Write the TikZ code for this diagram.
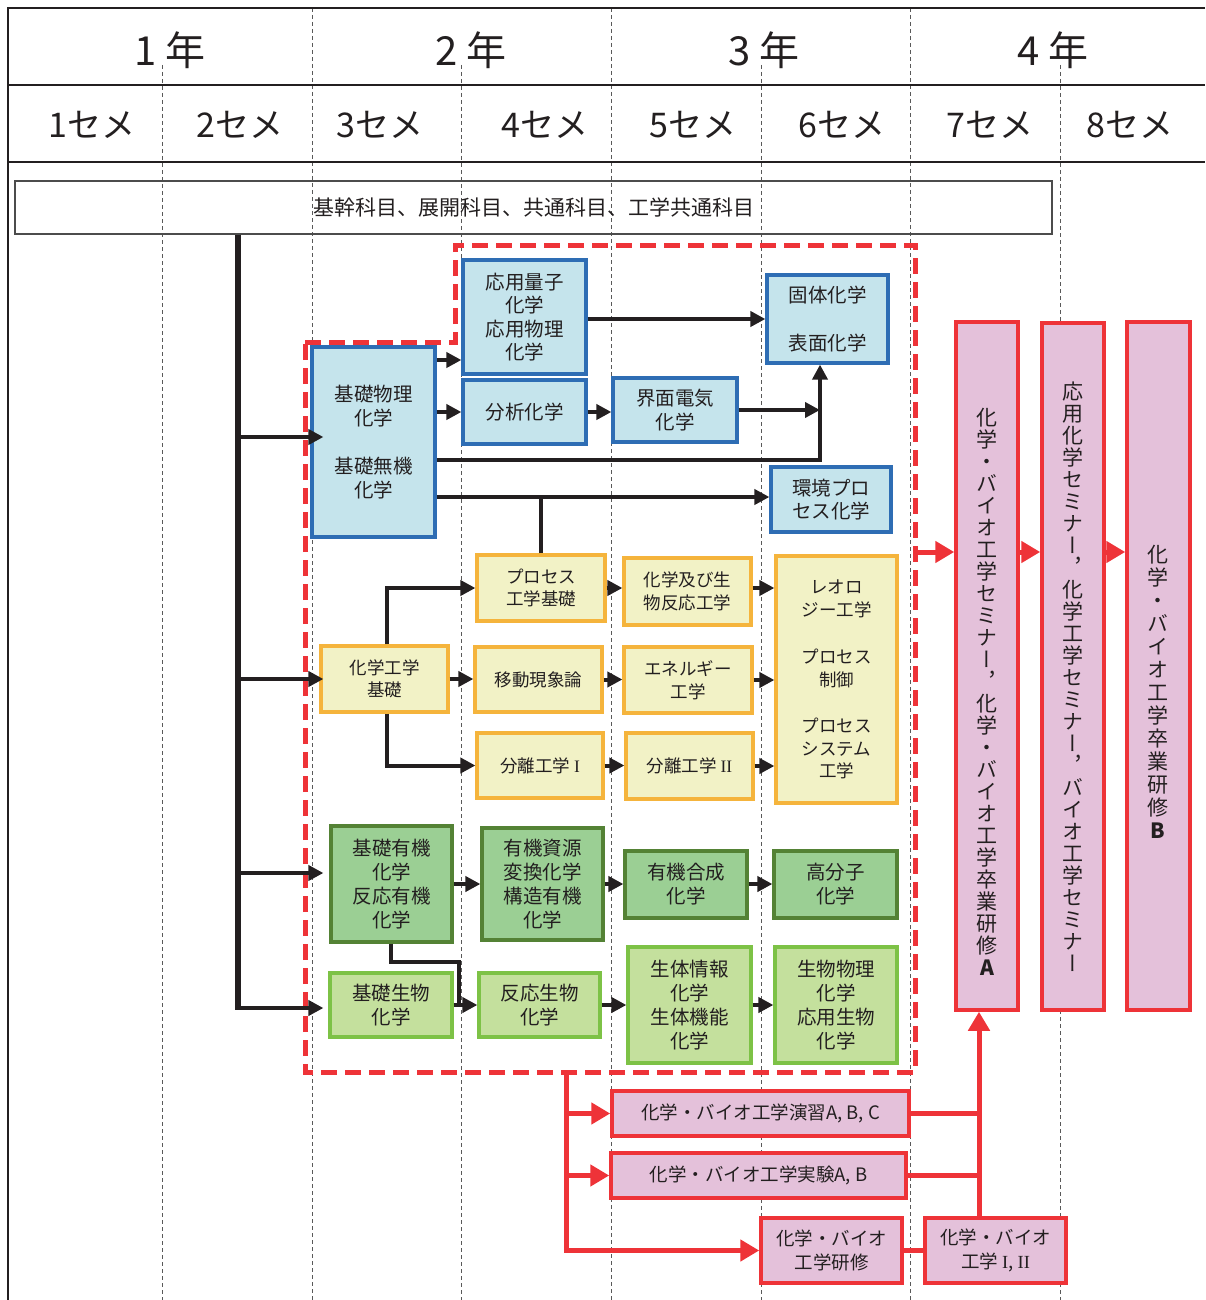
\documentclass[tikz,border=0pt]{standalone}
\usepackage{fontspec}
\setmainfont{Noto Sans CJK JP}
\newfontfamily\vfont[RawFeature=+vert]{Noto Sans CJK JP}
\newfontfamily\romf{Liberation Serif}
\usetikzlibrary{arrows.meta}
\definecolor{blk}{RGB}{35,31,32}
\definecolor{bluefill}{RGB}{197,228,236}
\definecolor{blueline}{RGB}{46,109,180}
\definecolor{yelfill}{RGB}{242,242,198}
\definecolor{yelline}{RGB}{245,180,60}
\definecolor{dgfill}{RGB}{155,207,148}
\definecolor{dgline}{RGB}{84,130,53}
\definecolor{lgfill}{RGB}{196,224,157}
\definecolor{lgline}{RGB}{125,194,70}
\definecolor{pinkfill}{RGB}{228,193,218}
\definecolor{redc}{RGB}{238,51,56}
\newcommand\mybox[7]{\node[#5, minimum width={(#3)-(#1)}, minimum height={(#4)-(#2)}] (#6) at ({((#1)+(#3))/2},{((#2)+(#4))/2}) {#7};}
\tikzset{
 base/.style={draw, line width=3.2pt, inner sep=0pt, align=center, text=blk},
 bluebox/.style={base, draw=blueline, fill=bluefill, font=\fontsize{19.5}{23.5}\selectfont},
 yelbox/.style={base, draw=yelline, fill=yelfill, font=\fontsize{17.5}{22.5}\selectfont},
 dgbox/.style={base, draw=dgline, fill=dgfill, font=\fontsize{19.5}{24}\selectfont},
 lgbox/.style={base, draw=lgline, fill=lgfill, font=\fontsize{19.5}{24}\selectfont},
 pinkbox/.style={base, line width=3.5pt, draw=redc, fill=pinkfill, font=\fontsize{18.5}{24.5}\selectfont},
 vtext/.style={inner sep=0pt, align=center, text=blk, font=\vfont\fontsize{21}{22}\selectfont},
 arr/.style={line width=4pt, draw=blk, -{Triangle[length=15pt,width=15pt]}},
 conn/.style={line width=4pt, draw=blk},
 trunk/.style={line width=6pt, draw=blk},
 rarr/.style={line width=5pt, draw=redc, -{Triangle[length=19pt,width=21pt]}},
 rconn/.style={line width=5pt, draw=redc},
 reddash/.style={line width=5pt, draw=redc, dash pattern=on 16pt off 8pt},
 gridline/.style={line width=0.9pt, draw=gray!70!black, dash pattern=on 4pt off 3pt},
 frameline/.style={line width=2.6pt, draw=blk},
 yearlbl/.style={text=blk, inner sep=0pt, font=\fontsize{40}{44}\selectfont},
 semlbl/.style={text=blk, inner sep=0pt, font=\fontsize{34}{38}\selectfont},
}
\begin{document}
\begin{tikzpicture}[x=1pt,y=-1pt]
\useasboundingbox (0,0) rectangle (1205,1300);
% grid
\foreach \x in {312,611,910} \draw[gridline] (\x,8) -- (\x,1300);
\foreach \x in {162,461,761,1060} \draw[gridline] (\x,65) -- (\x,1300);
% frame
\draw[frameline] (1205,8) -- (8,8) -- (8,1300);
\draw[frameline] (8,85) -- (1205,85);
\draw[frameline] (8,162) -- (1205,162);
% header labels
\node[yearlbl] (y1) at (170,50) {1 年};
\node[yearlbl] (y2) at (471,50) {2 年};
\node[yearlbl] (y3) at (764,50) {3 年};
\node[yearlbl] (y4) at (1053,50) {4 年};
\node[semlbl] (s1) at (92,125) {1セメ};
\node[semlbl] (s2) at (240,125) {2セメ};
\node[semlbl] (s3) at (380,125) {3セメ};
\node[semlbl] (s4) at (545,125) {4セメ};
\node[semlbl] (s5) at (693,125) {5セメ};
\node[semlbl] (s6) at (842,125) {6セメ};
\node[semlbl] (s7) at (990,125) {7セメ};
\node[semlbl] (s8) at (1130,125) {8セメ};
% top box
\node[draw=gray!60!black, line width=1.2pt, inner sep=0pt, minimum width=1037pt, minimum height=53pt, text=blk, font=\fontsize{21}{24}\selectfont] (kikan) at (533.5,207.5) {基幹科目、展開科目、共通科目、工学共通科目};
% red dashed region
\draw[reddash] (305,342) -- (455,342) -- (455,245) -- (915,245) -- (915,1072) -- (305,1072) -- cycle;
% blue boxes
\mybox{463}{260}{586}{374}{bluebox}{oyo}{応用量子\\化学\\応用物理\\化学}
\mybox{463}{380}{586}{444}{bluebox}{bunseki}{分析化学}
\mybox{312}{347}{435}{537}{bluebox}{kiso}{基礎物理\\化学\\[25pt]基礎無機\\化学}
\mybox{613}{378}{737}{442}{bluebox}{kaimen}{界面電気\\化学}
\mybox{767}{275}{888}{363}{bluebox}{kotai}{固体化学\\[25pt]表面化学}
\mybox{771}{467}{891}{532}{bluebox}{kankyo}{環境プロ\\セス化学}
% yellow boxes
\mybox{321}{646}{448}{712}{yelbox}{kagaku}{化学工学\\基礎}
\mybox{477}{555}{605}{621}{yelbox}{process}{プロセス\\工学基礎}
\mybox{475}{647}{602}{712}{yelbox}{ido}{移動現象論}
\mybox{477}{733}{603}{798}{yelbox}{bunri1}{分離工学 {\romf I}}
\mybox{624}{558}{751}{625}{yelbox}{hanno}{化学及び生\\物反応工学}
\mybox{624}{647}{752}{713}{yelbox}{energy}{エネルギー\\工学}
\mybox{626}{733}{753}{799}{yelbox}{bunri2}{分離工学 {\romf II}}
\mybox{776}{556}{897}{803}{yelbox}{reo}{レオロ\\ジー工学\\[25pt]プロセス\\制御\\[24pt]プロセス\\システム\\工学}
% green boxes
\mybox{331}{826}{452}{942}{dgbox}{yuki}{基礎有機\\化学\\反応有機\\化学}
\mybox{482}{828}{603}{940}{dgbox}{shigen}{有機資源\\変換化学\\構造有機\\化学}
\mybox{625}{851}{747}{918}{dgbox}{gosei}{有機合成\\化学}
\mybox{774}{851}{897}{918}{dgbox}{kobunshi}{高分子\\化学}
\mybox{330}{973}{452}{1037}{lgbox}{seibutsu}{基礎生物\\化学}
\mybox{479}{973}{600}{1037}{lgbox}{hannoseibutsu}{反応生物\\化学}
\mybox{628}{947}{751}{1063}{lgbox}{seitai}{生体情報\\化学\\生体機能\\化学}
\mybox{775}{947}{897}{1063}{lgbox}{butsuri}{生物物理\\化学\\応用生物\\化学}
% pink boxes
\mybox{612}{1091}{909}{1136}{pinkbox}{enshu}{化学・バイオ工学演習A, B, C}
\mybox{611}{1153}{906}{1198}{pinkbox}{jikken}{化学・バイオ工学実験A, B}
\mybox{761}{1218}{902}{1283}{pinkbox}{kenshu}{化学・バイオ\\工学研修}
\mybox{925}{1218}{1066}{1283}{pinkbox}{kogaku}{化学・バイオ\\工学 {\romf I}, {\romf II}}
\mybox{956}{322}{1018}{1010}{pinkbox}{graA}{}
\mybox{1042}{323}{1104}{1010}{pinkbox}{semi}{}
\mybox{1127}{322}{1190}{1010}{pinkbox}{graB}{}
\node[vtext] (graAt) at (987,692) {化\\学\\・\\バ\\イ\\オ\\工\\学\\セ\\ミ\\ナ\\ー\\，\\化\\学\\・\\バ\\イ\\オ\\工\\学\\卒\\業\\研\\修\\{\bfseries A}};
\node[vtext] (semit) at (1073,677) {応\\用\\化\\学\\セ\\ミ\\ナ\\ー\\，\\化\\学\\工\\学\\セ\\ミ\\ナ\\ー\\，\\バ\\イ\\オ\\工\\学\\セ\\ミ\\ナ\\ー};
\node[vtext, font=\vfont\fontsize{21}{23}\selectfont] (graBt) at (1158,692) {化\\学\\・\\バ\\イ\\オ\\工\\学\\卒\\業\\研\\修\\{\bfseries B}};
% trunk
\coordinate (tr) at (238,0);
\coordinate (t1) at (238,437);
\coordinate (t2) at (238,679);
\coordinate (t3) at (238,873);
\coordinate (t4) at (238,1008);
\draw[trunk] (kikan.south -| tr) -- (t4);
\draw[arr] (t1) -- ([xshift=13pt]kiso.west |- t1);
\draw[arr] (t2) -- ([xshift=4pt]kagaku.west |- t2);
\draw[arr] (t3) -- ([xshift=-6pt]yuki.west |- t3);
\draw[arr] ([xshift=-3pt]t4) -- ([xshift=-5pt]seibutsu.west |- t4);
% blue arrows
\coordinate (jx) at (820,0);
\draw[arr] (oyo.east |- kotai.west) -- (kotai.west);
\draw[arr] (kiso.east |- 0,360) -- (oyo.west |- 0,360);
\draw[arr] (kiso.east |- bunseki.west) -- (bunseki.west);
\draw[arr] (bunseki.east) -- (bunseki.east -| kaimen.west);
\draw[arr] (kaimen.east) -- (kaimen.east -| jx);
\draw[arr] (kiso.east |- 0,460) -| (jx |- kotai.south);
\draw[arr] (kiso.east |- 0,497) -- (kankyo.west |- 0,497);
\draw[conn] (process.north) -- (process.north |- 0,497);
% yellow arrows
\draw[arr] ([xshift=2.5pt]kagaku.north) |- (process.west);
\draw[arr] (kagaku.east) -- (kagaku.east -| ido.west);
\draw[arr] ([xshift=2.5pt]kagaku.south) |- (bunri1.west);
\draw[arr] (process.east) -- (process.east -| hanno.west);
\draw[arr] (ido.east) -- (ido.east -| energy.west);
\draw[arr] (bunri1.east) -- (bunri1.east -| bunri2.west);
\draw[arr] (hanno.east |- process.east) -- (reo.west |- process.east);
\draw[arr] (energy.east) -- (energy.east -| reo.west);
\draw[arr] (bunri2.east) -- (bunri2.east -| reo.west);
% green arrows
\draw[arr] (yuki.east) -- (yuki.east -| shigen.west);
\draw[arr] (shigen.east) -- (shigen.east -| gosei.west);
\draw[arr] (gosei.east |- shigen.east) -- (kobunshi.west |- shigen.east);
\draw[conn] ([xshift=-1pt]yuki.south) |- (459,962) -- (459,1005);
\draw[arr] (seibutsu.east) -- (hannoseibutsu.west);
\draw[arr] (hannoseibutsu.east) -- (hannoseibutsu.east -| seitai.west);
\draw[arr] (seitai.east) -- (seitai.east -| butsuri.west);
% red arrows
\coordinate (dr) at (915,552);
\draw[rarr] (dr) -- (dr -| graA.west);
\draw[rarr] (graA.east |- dr) -- (semi.west |- dr);
\draw[rarr] (semi.east |- dr) -- (graB.west |- dr);
\coordinate (db) at (566,1072);
\draw[rarr] (db) |- (kenshu.west);
\draw[rarr] (db |- enshu.west) -- (enshu.west);
\draw[rarr] (db |- jikken.west) -- (jikken.west);
\coordinate (rv) at (979,0);
\draw[rconn] (enshu.east) -- (enshu.east -| rv);
\draw[rconn] (jikken.east) -- (jikken.east -| rv);
\draw[rconn] (kenshu.east) -- (kogaku.west);
\draw[rarr] (kogaku.north -| rv) -- (graA.south -| rv);
\end{tikzpicture}
\end{document}
